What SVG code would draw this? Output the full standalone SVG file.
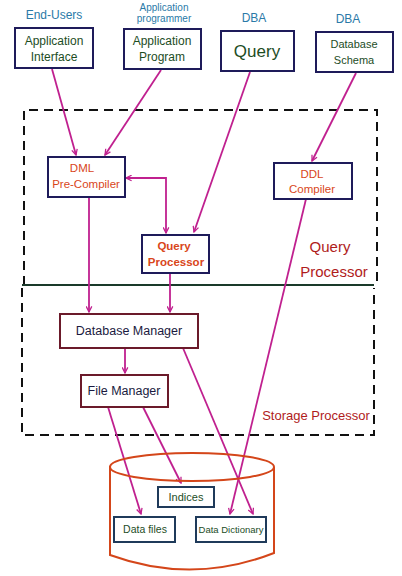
<svg xmlns="http://www.w3.org/2000/svg" width="402" height="576" viewBox="0 0 402 576">
<defs>
<marker id="ah" viewBox="0 0 10 10" refX="9" refY="5" markerWidth="7" markerHeight="7" orient="auto-start-reverse" markerUnits="userSpaceOnUse">
<path d="M1,1 L9,5 L1,9" fill="none" stroke="#c0208f" stroke-width="1.8"/>
</marker>
<style>
text{font-family:"Liberation Sans","DejaVu Sans",sans-serif;text-anchor:middle}
.nb{fill:#fff;stroke:#1e1b5a;stroke-width:2}
.mb{fill:#fff;stroke:#6b1a2a;stroke-width:2}
.db{fill:#fff;stroke:#1f3a5a;stroke-width:2}
.tg{fill:#1d4d1f;font-size:12px}
.to{fill:#d9461a;font-size:11.5px}
.tn{fill:#1a1a40;font-size:12.5px}
.lb{fill:#2a7aa8;font-size:12px}
.lr{fill:#b01c1c;font-size:15px}
.c{fill:none;stroke:#c0208f;stroke-width:1.8;marker-end:url(#ah)}
.dash{fill:none;stroke:#111;stroke-width:2;stroke-dasharray:9,6}
</style>
</defs>
<rect width="402" height="576" fill="#fff"/>

<g id="labels">
<text class="lb" x="54" y="19">End-Users</text>
<text class="lb" x="164" y="11" style="font-size:10px">Application</text>
<text class="lb" x="164" y="22" style="font-size:10px">programmer</text>
<text class="lb" x="254" y="22">DBA</text>
<text class="lb" x="348" y="23">DBA</text>
<text class="lr" x="330" y="252">Query</text>
<text class="lr" x="334" y="277">Processor</text>
<text class="lr" x="316" y="420" style="font-size:13px">Storage Processor</text>
</g>

<g id="frames">
<path class="dash" d="M24,285 L24,110 L377,110 L377,282"/>
<line x1="22" y1="285" x2="374" y2="285" stroke="#1a3a2a" stroke-width="2"/>
<path class="dash" d="M22,288 L22,435 L374,435 L374,288"/>
</g>

<g id="connectors">
<path class="c" d="M52,69 L76,155"/>
<path class="c" d="M161,70 L105,155"/>
<path class="c" d="M250,72 L194,232"/>
<path class="c" d="M356,73 L312,161"/>
<path class="c" d="M166,233 L166,178 L126,178" style="marker-start:url(#ah)"/>
<path class="c" d="M89,197 L89,312"/>
<path class="c" d="M170,273 L170,312"/>
<path class="c" d="M306,199 L230,514"/>
<path class="c" d="M183,348 L253,514"/>
<path class="c" d="M125,348 L125,373"/>
<path class="c" d="M108,407 L141,514"/>
<path class="c" d="M143,407 L181,483"/>
</g>

<g id="app-interface">
<rect class="nb" x="15" y="28" width="78" height="40"/>
<text class="tg" x="54" y="45">Application</text>
<text class="tg" x="54" y="61">Interface</text>
</g>
<g id="app-program">
<rect class="nb" x="124" y="29" width="77" height="40"/>
<text class="tg" x="162" y="45">Application</text>
<text class="tg" x="162" y="61">Program</text>
</g>
<g id="query">
<rect class="nb" x="221" y="31" width="73" height="40"/>
<text class="tg" x="257" y="57" style="font-size:17px">Query</text>
</g>
<g id="db-schema">
<rect class="nb" x="316" y="32" width="77" height="40"/>
<text class="tg" x="354" y="48" style="font-size:11px">Database</text>
<text class="tg" x="354" y="64" style="font-size:11px">Schema</text>
</g>
<g id="dml">
<rect class="nb" x="48" y="157" width="77" height="40"/>
<text class="to" x="82" y="172">DML</text>
<text class="to" x="86" y="188">Pre-Compiler</text>
</g>
<g id="ddl">
<rect class="nb" x="274" y="163" width="78" height="36"/>
<text class="to" x="312" y="178">DDL</text>
<text class="to" x="312" y="193">Compiler</text>
</g>
<g id="query-processor">
<rect class="nb" x="142" y="235" width="67" height="38"/>
<text class="to" x="174" y="250" style="font-weight:bold">Query</text>
<text class="to" x="176" y="266" style="font-weight:bold">Processor</text>
</g>
<g id="db-manager">
<rect class="mb" x="60" y="314" width="138" height="34"/>
<text class="tn" x="129" y="335">Database Manager</text>
</g>
<g id="file-manager">
<rect class="mb" x="81" y="375" width="87" height="32"/>
<text class="tn" x="124" y="395">File Manager</text>
</g>
<g id="storage">
<path d="M110,466 L110,555 Q192,585 274,553 L274,467" fill="none" stroke="#d4461a" stroke-width="2"/>
<ellipse cx="192" cy="467" rx="82" ry="14" fill="none" stroke="#d4461a" stroke-width="2"/>
</g>
<g id="indices">
<rect class="db" x="158" y="487" width="56" height="20"/>
<text class="tg" x="186" y="501" style="font-size:11px">Indices</text>
</g>
<g id="data-files">
<rect class="db" x="114" y="517" width="61" height="25"/>
<text class="tg" x="145" y="533" style="font-size:10.5px">Data files</text>
</g>
<g id="data-dictionary">
<rect class="db" x="196" y="517" width="70" height="25"/>
<text class="tg" x="231" y="533" style="font-size:9.5px">Data Dictionary</text>
</g>
</svg>
